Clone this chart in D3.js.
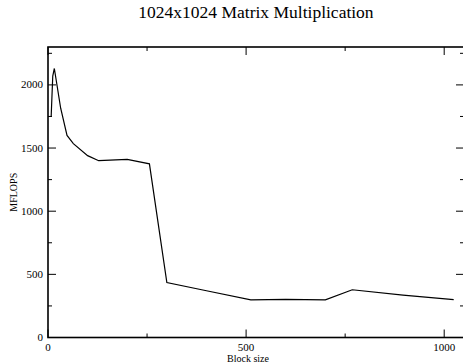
<!DOCTYPE html>
<html>
<head>
<meta charset="utf-8">
<script src="https://cdn.jsdelivr.net/npm/d3@7"></script>
<style>
  body { margin: 0; background: #fff; }
  svg { display: block; font-family: "Liberation Serif", "Times New Roman", serif; }
</style>
</head>
<body>
<svg id="chart"></svg>
<script>
// block size vs MFLOPS for 1024x1024 matmul
var blockSizes = [8, 12, 16, 32, 48, 64, 100, 128, 200, 256, 300, 400, 512, 600, 700, 768, 896, 1024]
var mflops = [1750, 2070, 2130, 1815, 1600, 1535, 1440, 1400, 1410, 1375, 435, 370, 298, 302, 298, 378, 335, 300]
var xMajorTicks = [0, 500, 1000]
var xMinorTicks = [250, 750]
var yMajorTicks = [0, 500, 1000, 1500, 2000]
var yMinorTicks = [250, 750, 1250, 1750, 2250]

var outerWidth = 463, outerHeight = 364
var margins = { top: 47, bottom: 26.5, left: 48, right: -1 }

var svg = d3.select("svg#chart")
    .attr("width", outerWidth)
    .attr("height", outerHeight)

var x = d3.scaleLinear()
    .domain([0, 1050])
    .range([margins.left, outerWidth - margins.right])

var y = d3.scaleLinear()
    .domain([0, 2300])
    .range([outerHeight - margins.bottom, margins.top])

var x0 = x.range()[0], x1 = x.range()[1]
var y0 = y.range()[0], y1 = y.range()[1]

// frame
svg.append("rect")
    .attr("x", x0).attr("y", y1)
    .attr("width", x1 - x0).attr("height", y0 - y1)
    .attr("fill", "none")
    .attr("stroke", "#000")
    .attr("stroke-width", 1.6)

var ticks = svg.append("g").attr("stroke", "#000").attr("stroke-width", 1)

function tickLines(vals, len, horizontal) {
    vals.forEach(function(v) {
        if (horizontal) {
            // ticks on bottom and top
            ticks.append("line").attr("x1", x(v)).attr("x2", x(v)).attr("y1", y0).attr("y2", y0 - len)
            ticks.append("line").attr("x1", x(v)).attr("x2", x(v)).attr("y1", y1).attr("y2", y1 + len)
        } else {
            ticks.append("line").attr("y1", y(v)).attr("y2", y(v)).attr("x1", x0).attr("x2", x0 + len)
            ticks.append("line").attr("y1", y(v)).attr("y2", y(v)).attr("x1", x1).attr("x2", x1 - len)
        }
    })
}
tickLines(xMajorTicks, 8, true)
tickLines(xMinorTicks, 4, true)
tickLines(yMajorTicks, 8, false)
tickLines(yMinorTicks, 4, false)

// tick labels
svg.append("g").selectAll("text")
    .data(xMajorTicks)
    .enter().append("text")
    .attr("x", function(d) { return x(d) })
    .attr("y", y0 + 13)
    .attr("text-anchor", "middle")
    .attr("font-size", 11)
    .text(function(d) { return d })

svg.append("g").selectAll("text")
    .data(yMajorTicks)
    .enter().append("text")
    .attr("x", x0 - 5)
    .attr("y", function(d) { return y(d) + 3.5 })
    .attr("text-anchor", "end")
    .attr("font-size", 11)
    .text(function(d) { return d })

// titles
svg.append("text")
    .attr("x", (x0 + x1) / 2)
    .attr("y", 18)
    .attr("text-anchor", "middle")
    .attr("font-size", 17.5)
    .text("1024x1024 Matrix Multiplication")

svg.append("text")
    .attr("x", 248)
    .attr("y", 362)
    .attr("text-anchor", "middle")
    .attr("font-size", 10)
    .text("Block size")

svg.append("text")
    .attr("transform", "translate(17," + ((y0 + y1) / 2) + ") rotate(-90)")
    .attr("text-anchor", "middle")
    .attr("font-size", 10)
    .text("MFLOPS")

// the line
var line = d3.line()
    .x(function(d, i) { return x(blockSizes[i]) })
    .y(function(d) { return y(d) })

svg.append("path")
    .datum(mflops)
    .attr("d", line)
    .attr("fill", "none")
    .attr("stroke", "#000")
    .attr("stroke-width", 1.2)
</script>
</body>
</html>
